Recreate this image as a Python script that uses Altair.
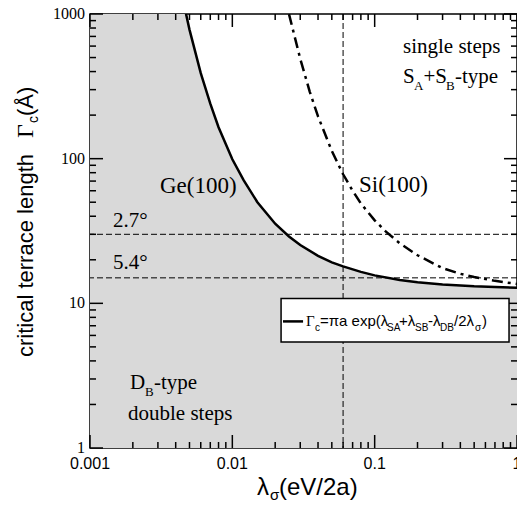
import altair as alt
import pandas as pd

# ---- data ----
X_DOMAIN = [0.001, 1.0]
Y_DOMAIN = [1.0, 1000.0]

ge_lambda = [0.0045, 0.005, 0.006, 0.007, 0.008, 0.01, 0.012, 0.015, 0.02, 0.025,
             0.03, 0.04, 0.05, 0.06, 0.08, 0.1, 0.15, 0.2, 0.3, 0.5, 0.7, 1.0]
ge_gamma = [1250, 780, 390, 240, 165, 99, 71, 50, 35.5, 29.0,
            25.3, 21.3, 19.2, 18.0, 16.5, 15.6, 14.5, 14.0, 13.5, 13.1, 12.95, 12.8]

si_lambda = [0.023, 0.025, 0.03, 0.035, 0.04, 0.05, 0.06, 0.07, 0.08, 0.1,
             0.12, 0.15, 0.2, 0.3, 0.4, 0.5, 0.7, 1.0]
si_gamma = [1450, 1000, 490, 290, 196, 113, 78, 60, 49, 37.5,
            31.3, 26.0, 21.5, 17.5, 16.0, 15.2, 14.3, 13.6]

miscut_gamma = [30, 15]          # 2.7 deg and 5.4 deg terrace lengths
vertical_lambda = [0.06]

x_major = [0.001, 0.01, 0.1, 1.0]
x_labels = ["0.001", "0.01", "0.1", "1"]
y_major = [1, 10, 100, 1000]
y_labels = ["1", "10", "100", "1000"]
x_minor = [m * d for d in [0.001, 0.01, 0.1] for m in range(2, 10)]
y_minor = [m * d for d in [1, 10, 100] for m in range(2, 10)]

# legend box corners and legend line sample, in data units
legend_lam = [0.0220, 0.879]
legend_gam = [10.8, 5.4]
legend_line_lam = [0.0227, 0.0314]
legend_line_gam = [7.5]

W, H = 427, 434
SERIF = "Liberation Serif"
SANS = "Liberation Sans"

xs = alt.Scale(type="log", domain=X_DOMAIN, nice=False)
ys = alt.Scale(type="log", domain=Y_DOMAIN, nice=False)


def X(f):
    return alt.X(f, scale=xs, axis=None)


def Y(f):
    return alt.Y(f, scale=ys, axis=None)


ge_df = pd.DataFrame({"lam": ge_lambda, "gam": ge_gamma})
si_df = pd.DataFrame({"lam": si_lambda, "gam": si_gamma})
area_df = pd.DataFrame({"lam": [X_DOMAIN[0]] + ge_lambda,
                        "gam": [ge_gamma[0]] + ge_gamma})

area = alt.Chart(area_df).mark_area(color="#d9d9d9", clip=True).encode(
    x=X("lam:Q"), y=Y("gam:Q"), y2=alt.datum(1))

hlines = alt.Chart(pd.DataFrame({"g": miscut_gamma})).mark_rule(
    color="black", strokeWidth=1, strokeDash=[6, 3]).encode(y=Y("g:Q"))
vline = alt.Chart(pd.DataFrame({"l": vertical_lambda})).mark_rule(
    color="black", strokeWidth=1, strokeDash=[6, 3]).encode(x=X("l:Q"))

ge_line = alt.Chart(ge_df).mark_line(color="black", strokeWidth=2.5, clip=True).encode(
    x=X("lam:Q"), y=Y("gam:Q"))
si_line = alt.Chart(si_df).mark_line(color="black", strokeWidth=2.5, clip=True,
                                     strokeDash=[11, 5, 3, 5]).encode(
    x=X("lam:Q"), y=Y("gam:Q"))


def xticks(vals, y0, y1):
    return alt.Chart(pd.DataFrame({"v": vals})).mark_rule(color="black", strokeWidth=1.5).encode(
        x=X("v:Q"), y=alt.value(y0), y2=alt.value(y1))


def yticks(vals, x0, x1):
    return alt.Chart(pd.DataFrame({"v": vals})).mark_rule(color="black", strokeWidth=1.5).encode(
        y=Y("v:Q"), x=alt.value(x0), x2=alt.value(x1))


ticks = [
    xticks(x_major, 0, 13), xticks(x_minor, 0, 6),
    xticks(x_major, H, H - 13), xticks(x_minor, H, H - 6),
    yticks(y_major, 0, 13), yticks(y_minor, 0, 6),
    yticks(y_major, W, W - 13), yticks(y_minor, W, W - 6),
]

xlab = alt.Chart(pd.DataFrame({"v": x_major, "lab": x_labels})).mark_text(
    font=SANS, fontSize=16, align="center", baseline="top", color="black").encode(
    x=X("v:Q"), y=alt.value(H + 8), text="lab:N")
ylab = alt.Chart(pd.DataFrame({"v": y_major, "lab": y_labels})).mark_text(
    font=SERIF, fontSize=16, align="right", baseline="middle", color="black").encode(
    y=Y("v:Q"), x=alt.value(-5), text="lab:N")


def txt(label, x, y, size, font=SERIF, angle=0, align="left"):
    return alt.Chart(pd.DataFrame({"t": [label]})).mark_text(
        font=font, fontSize=size, align=align, baseline="alphabetic",
        angle=angle, color="black").encode(
        x=alt.value(x), y=alt.value(y), text="t:N")


legend_box = alt.Chart(pd.DataFrame({"x0": [legend_lam[0]], "x1": [legend_lam[1]],
                                     "y0": [legend_gam[0]], "y1": [legend_gam[1]]})).mark_rect(
    fill="white", stroke="black", strokeWidth=1.5).encode(
    x=X("x0:Q"), x2="x1:Q", y=Y("y0:Q"), y2="y1:Q")
legend_line = alt.Chart(pd.DataFrame({"x0": [legend_line_lam[0]], "x1": [legend_line_lam[1]],
                                      "y0": legend_line_gam})).mark_rule(
    color="black", strokeWidth=2.5).encode(
    x=X("x0:Q"), x2="x1:Q", y=Y("y0:Q"))

texts = [
    txt("Ge(100)", 70, 179, 23),
    txt("Si(100)", 269, 178, 23),
    txt("2.7°", 23, 213, 21),
    txt("5.4°", 23, 255, 21),
    txt("single steps", 313, 39, 21),
    txt("S", 313, 69, 21), txt("A", 324, 76, 13), txt("+S", 333.5, 69, 21),
    txt("B", 356, 76, 13), txt("-type", 365, 69, 21),
    txt("D", 40, 375, 21), txt("B", 55, 382, 13), txt("-type", 64, 375, 21),
    txt("double steps", 38, 406, 21),
    # legend text
    txt("Γ", 216, 312, 15, SERIF), txt("c", 225, 317, 10, SANS),
    txt("=πa exp(λ", 230, 312, 15, SANS), txt("SA", 297, 317, 10, SANS),
    txt("+λ", 309, 312, 15, SANS), txt("SB", 325, 317, 10, SANS),
    txt("-λ", 338, 312, 15, SANS), txt("DB", 350, 317, 10, SANS),
    txt("/2λ", 364, 312, 15, SANS), txt("σ", 385, 317, 10, SANS),
    txt(")", 392, 312, 15, SANS),
    # axis titles
    txt("λ", 167, 481, 24, SANS), txt("σ", 180, 486, 15, SANS),
    txt("(eV/2a)", 189, 481, 24, SANS),
    txt("critical terrace length", -57, 343, 22, SANS, angle=270),
    txt("Γ", -57, 124, 24, SERIF, angle=270),
    txt("c", -52, 109, 14, SANS, angle=270),
    txt("(Å)", -57, 102, 22, SANS, angle=270),
]

chart = alt.layer(area, hlines, vline, ge_line, si_line, *ticks, xlab, ylab,
                  legend_box, legend_line, *texts).properties(
    width=W, height=H,
    autosize=alt.AutoSizeParams(type="none"),
    padding={"left": 82, "top": 6, "right": 0, "bottom": 58},
    background="white",
).configure_view(stroke="black", strokeWidth=1.5)

chart.save("out.html", embed_options={"renderer": "svg", "actions": False})
